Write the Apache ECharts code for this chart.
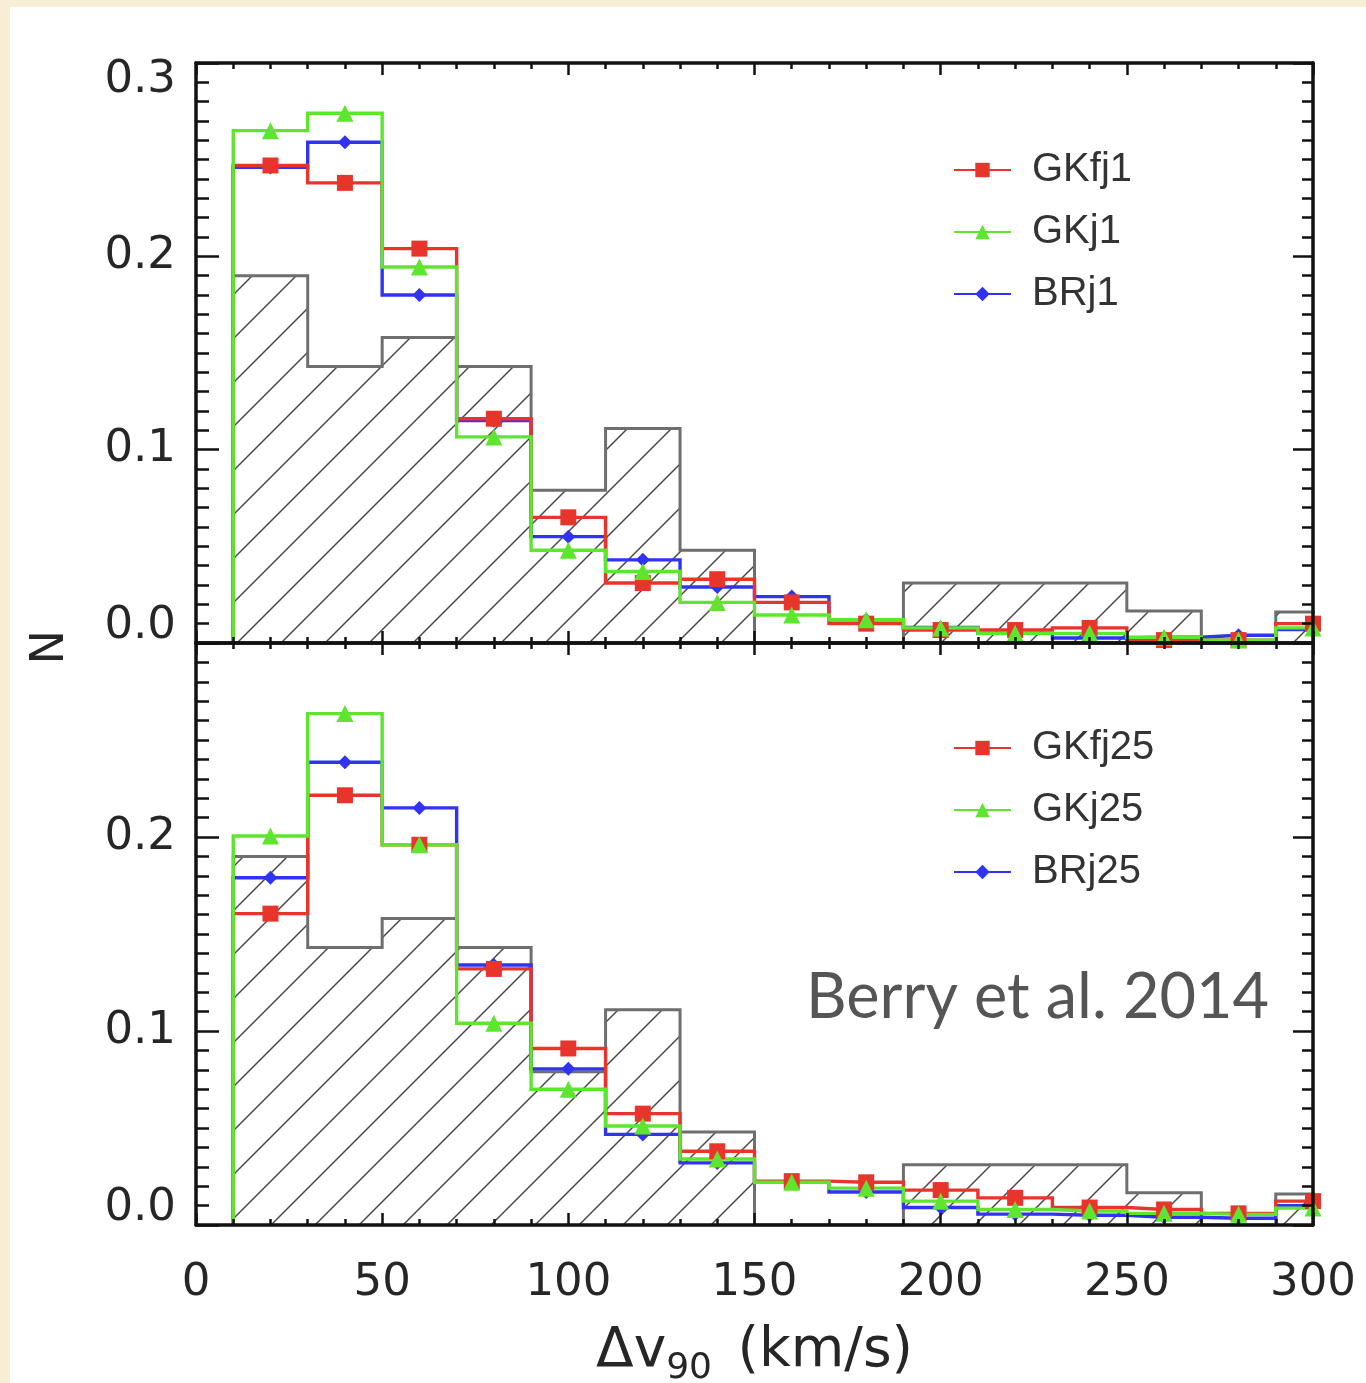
<!DOCTYPE html>
<html>
<head>
<meta charset="utf-8">
<script src="https://cdn.jsdelivr.net/npm/echarts@6/dist/echarts.min.js"></script>
<style>
  html, body { margin: 0; padding: 0; background: #f7eed5; }
  #paper { position: absolute; left: 10px; top: 7px; width: 1356px; height: 1376px; background: #ffffff; }
  #chart { position: absolute; left: 0; top: 0; width: 1366px; height: 1383px; }
</style>
</head>
<body>
<div id="paper"></div>
<div id="chart"></div>
<script>
// ---- data ----
const binEdges   = [10, 30, 50, 70, 90, 110, 130, 150, 170, 190, 210, 230, 250, 270, 290, 310];
const binCenters = [20, 40, 60, 80, 100, 120, 140, 160, 180, 200, 220, 240, 260, 280, 300];
const observed   = [0.190, 0.143, 0.158, 0.143, 0.079, 0.111, 0.048, 0.0, 0.0, 0.031, 0.031, 0.031, 0.0166, 0.0, 0.016];

const GKfj1 = [0.247, 0.238, 0.204, 0.116, 0.065, 0.031, 0.033, 0.021, 0.010, 0.0067, 0.0067, 0.0078, 0.0015, 0.0015, 0.010];
const GKj1  = [0.265, 0.274, 0.1945, 0.1066, 0.048, 0.037, 0.021, 0.0145, 0.012, 0.0078, 0.005, 0.005, 0.003, 0.0015, 0.0078];
const BRj1  = [0.246, 0.259, 0.180, 0.115, 0.055, 0.043, 0.029, 0.024, 0.012, 0.008, 0.005, 0.0026, 0.003, 0.004, 0.007];

const GKfj25 = [0.1605, 0.2215, 0.196, 0.132, 0.091, 0.0574, 0.038, 0.0226, 0.022, 0.018, 0.014, 0.009, 0.008, 0.006, 0.0123];
const GKj25  = [0.2005, 0.2636, 0.196, 0.104, 0.070, 0.051, 0.034, 0.022, 0.019, 0.0123, 0.008, 0.0072, 0.006, 0.0055, 0.0087];
const BRj25  = [0.179, 0.2385, 0.215, 0.134, 0.0805, 0.0467, 0.032, 0.022, 0.017, 0.009, 0.0056, 0.005, 0.004, 0.0035, 0.010];

const topNames = ['GKfj1', 'GKj1', 'BRj1'];
const botNames = ['GKfj25', 'GKj25', 'BRj25'];

// ---- styling ----
const FONT = "'Liberation Sans', Arial, sans-serif";
const NUMFONT = "'DejaVu Sans', 'Liberation Sans', sans-serif";
const INK = '#262626';
const RED = '#e8352b', GREEN = '#5ee52e', BLUE = '#3034f2', GRAY = '#6e6e6e';

function hatchPattern() {
  const s = 44;
  const c = document.createElement('canvas');
  c.width = s; c.height = s;
  const g = c.getContext('2d');
  g.strokeStyle = '#4a4a4a';
  g.lineWidth = 1.5;
  g.beginPath();
  g.moveTo(-2, s + 2); g.lineTo(s + 2, -2);
  g.moveTo(-2, 2); g.lineTo(2, -2);
  g.moveTo(s - 2, s + 2); g.lineTo(s + 2, s - 2);
  g.stroke();
  return c;
}

function stepData(vals, markers) {
  const pts = [{ value: [binEdges[0], 0], symbol: 'none' }];
  vals.forEach(function (v, i) {
    pts.push({ value: [binEdges[i], v], symbol: 'none' });
    if (markers) pts.push({ value: [binCenters[i], v] });
    pts.push({ value: [binEdges[i + 1], v], symbol: 'none' });
  });
  return pts;
}

function obsSeries(ax) {
  return {
    type: 'line', name: 'obs' + ax, xAxisIndex: ax, yAxisIndex: ax,
    data: stepData(observed, false), symbol: 'none',
    lineStyle: { color: GRAY, width: 3, join: 'miter' },
    areaStyle: { color: { image: hatchPattern(), repeat: 'repeat' }, opacity: 1 },
    z: 1, silent: true
  };
}

function simSeries(name, vals, color, symbol, size, ax) {
  return {
    type: 'line', name: name, xAxisIndex: ax, yAxisIndex: ax,
    data: stepData(vals, true), symbol: symbol, symbolSize: size, showAllSymbol: true,
    lineStyle: { color: color, width: 3.4, join: 'miter' },
    itemStyle: { color: color },
    z: 3, silent: true
  };
}

const TICK = { color: '#111', width: 2.5 };

function xAxisCfg(grid, pos, labels) {
  const a = {
    type: 'value', gridIndex: grid, position: pos, min: 0, max: 300, interval: 50,
    axisLine: { show: true, onZero: false, lineStyle: { color: '#111', width: 3.5 } },
    axisTick: { show: true, inside: true, length: 12, lineStyle: TICK },
    splitLine: { show: false },
    axisLabel: { show: labels, color: INK, fontFamily: NUMFONT, fontSize: 45, margin: 36 },
    z: 5
  };
  if (labels) {
    a.name = '{d|\u0394v}{s|90}{p| (km/s)}';
    a.nameLocation = 'middle';
    a.nameGap = 92;
    a.nameTextStyle = {
      color: INK, fontFamily: NUMFONT,
      rich: {
        d: { fontSize: 55, fontFamily: NUMFONT, color: INK },
        s: { fontSize: 36, fontFamily: NUMFONT, color: INK, padding: [34, 8, 0, 0] },
        p: { fontSize: 55, fontFamily: NUMFONT, color: INK }
      }
    };
  }
  return a;
}

function xMinorCfg(grid, pos) {
  return {
    type: 'value', gridIndex: grid, position: pos, min: 0, max: 300, interval: 10,
    axisLine: { show: false, onZero: false },
    axisTick: { show: true, inside: true, length: 6, lineStyle: TICK },
    splitLine: { show: false },
    axisLabel: { show: false },
    z: 5
  };
}

function yAxisCfg(grid, pos, labels, showTopLabel) {
  return {
    type: 'value', gridIndex: grid, position: pos, min: 0, max: 0.3, interval: 0.1,
    axisLine: { show: true, onZero: false, lineStyle: { color: '#111', width: 3.5 } },
    axisTick: { show: true, inside: true, length: pos === 'left' ? 23 : 20, lineStyle: TICK },
    splitLine: { show: false },
    axisLabel: {
      show: labels, color: INK, fontFamily: NUMFONT, fontSize: 45, margin: 20, lineHeight: 34,
      formatter: function (v) {
        if (Math.abs(v) < 1e-9) return '0.0\n';
        if (Math.abs(v - 0.3) < 1e-9) return showTopLabel ? '\n0.3' : '';
        return v.toFixed(1);
      }
    },
    z: 5
  };
}

function yMinorCfg(grid, pos) {
  return {
    type: 'value', gridIndex: grid, position: pos, min: 0, max: 0.3, interval: 0.01,
    axisLine: { show: false, onZero: false },
    axisTick: { show: true, inside: true, length: pos === 'left' ? 13 : 11, lineStyle: TICK },
    splitLine: { show: false },
    axisLabel: { show: false },
    z: 5
  };
}

const chart = echarts.init(document.getElementById('chart'), null, { renderer: 'canvas' });

chart.setOption({
  animation: false,
  backgroundColor: 'transparent',
  grid: [
    { left: 196, top: 63, width: 1117, height: 580, containLabel: false, outerBoundsMode: 'none' },
    { left: 196, top: 643, width: 1117, height: 582, containLabel: false, outerBoundsMode: 'none' }
  ],
  xAxis: [
    xAxisCfg(0, 'bottom', false),
    xAxisCfg(0, 'top', false),
    xAxisCfg(1, 'bottom', true),
    xAxisCfg(1, 'top', false),
    xMinorCfg(0, 'bottom'),
    xMinorCfg(0, 'top'),
    xMinorCfg(1, 'bottom'),
    xMinorCfg(1, 'top')
  ],
  yAxis: [
    yAxisCfg(0, 'left', true, true),
    yAxisCfg(0, 'right', false, false),
    yAxisCfg(1, 'left', true, false),
    yAxisCfg(1, 'right', false, false),
    yMinorCfg(0, 'left'),
    yMinorCfg(0, 'right'),
    yMinorCfg(1, 'left'),
    yMinorCfg(1, 'right')
  ],
  legend: [
    {
      data: topNames, orient: 'vertical', left: 948, top: 145, itemWidth: 57, itemHeight: 18, itemGap: 22,
      selectedMode: false,
      textStyle: { color: '#333', fontFamily: FONT, fontSize: 40, padding: [0, 0, 0, 16] }
    },
    {
      data: botNames, orient: 'vertical', left: 948, top: 723, itemWidth: 57, itemHeight: 18, itemGap: 22,
      selectedMode: false,
      textStyle: { color: '#333', fontFamily: FONT, fontSize: 40, padding: [0, 0, 0, 16] }
    }
  ],
  graphic: [
    {
      type: 'text', left: 28, top: 630, rotation: Math.PI / 2, silent: true,
      style: { text: 'N', fill: INK, font: "46px 'DejaVu Sans', 'Liberation Sans', sans-serif" }
    },
    {
      type: 'text', x: 806, y: 998, silent: true,
      style: { text: 'Berry et al. 2014', fill: '#555555', font: "63px Lato, 'Open Sans', sans-serif", verticalAlign: 'middle', align: 'left' }
    }
  ],
  series: [
    obsSeries(0),
    simSeries('BRj1', BRj1, BLUE, 'diamond', 14, 0),
    simSeries('GKfj1', GKfj1, RED, 'rect', 16, 0),
    simSeries('GKj1', GKj1, GREEN, 'triangle', 17, 0),
    obsSeries(2),
    simSeries('BRj25', BRj25, BLUE, 'diamond', 14, 2),
    simSeries('GKfj25', GKfj25, RED, 'rect', 16, 2),
    simSeries('GKj25', GKj25, GREEN, 'triangle', 17, 2)
  ]
});
</script>
</body>
</html>
